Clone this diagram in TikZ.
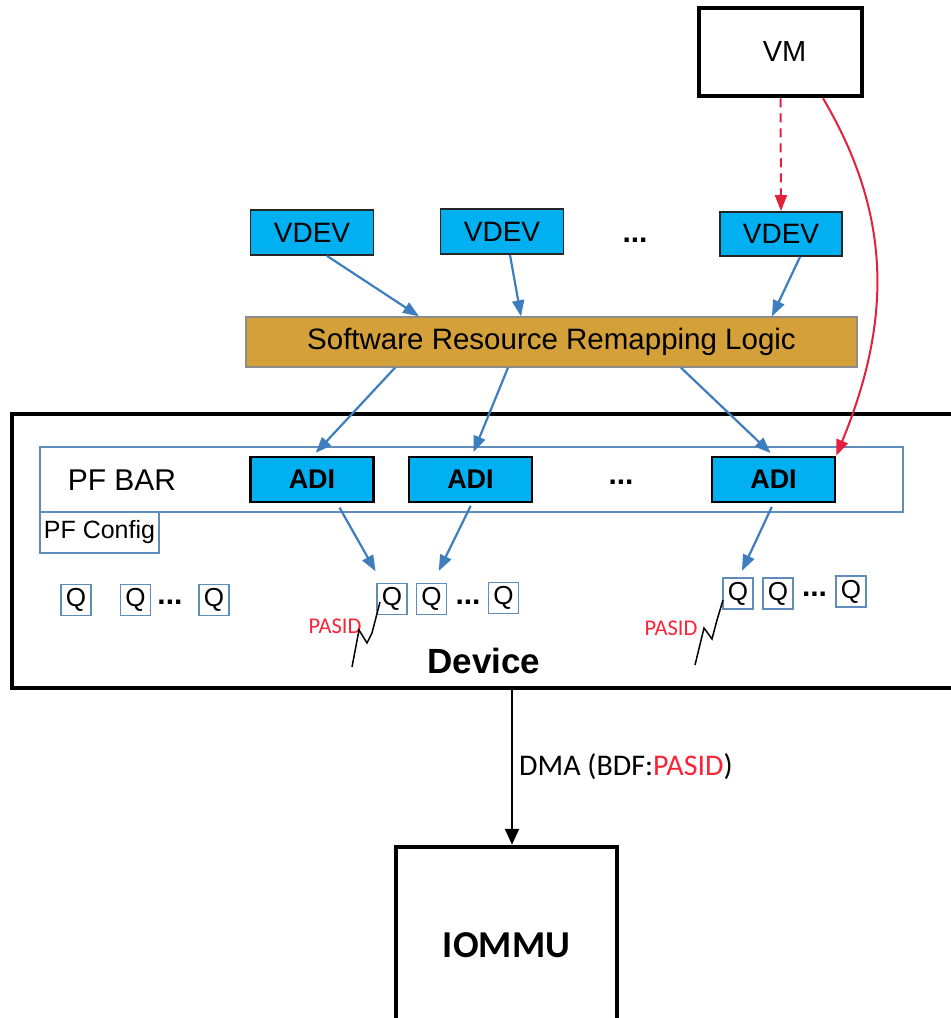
\documentclass[tikz,border=0pt]{standalone}
\usepackage{fontspec}
\setmainfont{Liberation Sans}
\newfontfamily\calfont{Carlito}
\usetikzlibrary{arrows.meta}

\definecolor{adicyan}{RGB}{0,176,240}
\definecolor{remaporange}{RGB}{212,160,58}
\definecolor{flowblue}{RGB}{62,126,190}
\definecolor{barblue}{RGB}{95,140,185}
\definecolor{vmred}{RGB}{228,32,62}
\definecolor{pasidred}{RGB}{250,35,55}

\tikzset{
	box/.style={draw, inner sep=0pt, minimum width=123pt, minimum height=45pt},
	vdevbox/.style={box, fill=adicyan, draw=black!85, line width=1.8pt, font=\fontsize{28}{34}\selectfont},
	adibox/.style={box, fill=adicyan, draw=black, line width=2.4pt, font=\bfseries\fontsize{27}{32}\selectfont},
	thickbox/.style={draw=black, line width=4.5pt, inner sep=0pt},
	barbox/.style={draw=barblue, line width=1.7pt, inner sep=0pt},
	qbox/.style={barbox, minimum width=30pt, minimum height=31pt, font=\fontsize{26}{30}\selectfont},
	dotsnode/.style={inner sep=0pt, font=\bfseries\fontsize{30}{32}\selectfont},
	pasid/.style={inner sep=0pt, text=pasidred, font=\calfont\fontsize{22.5}{26}\selectfont},
	flow/.style={-{Triangle[length=16pt,width=12pt]}, flowblue, line width=2.2pt},
	redflow/.style={-{Triangle[length=16pt,width=12pt]}, vmred, line width=2pt},
	zig/.style={black, line width=1.5pt},
}

\begin{document}
\begin{tikzpicture}[x=1pt,y=-1pt]
	\useasboundingbox (0,0) rectangle (951,1018);
	% VM and virtual devices
	\node[thickbox, minimum width=163pt, minimum height=88pt, font=\fontsize{29}{34}\selectfont] (vm) at (780.5,52) {\hspace*{8pt}VM};
	\node[vdevbox] (vdevA) at (312,232.5) {VDEV};
	\node[vdevbox] (vdevB) at (502,231.5) {VDEV};
	\node[vdevbox, minimum width=122pt, minimum height=44pt] (vdevC) at (781,234) {VDEV};
	\node[dotsnode] (vdots) at (635,240) {...};
	\node[draw=black!45, fill=remaporange, line width=1.4pt, inner sep=0pt, minimum width=611pt, minimum height=50pt, font=\fontsize{29.5}{34}\selectfont] (remap) at (551.5,342) {Software Resource Remapping Logic};

	% Device
	\node[thickbox, minimum width=948pt, minimum height=274pt] (device) at (486,551) {};
	\node[barbox, minimum width=863pt, minimum height=65pt] (pfbar) at (471.5,479.5) {};
	\node[inner sep=0pt, font=\fontsize{30}{34}\selectfont] (pfbarlabel) at (122,480) {PF BAR};
	\node[barbox, minimum width=119pt, minimum height=41pt, font=\fontsize{25}{30}\selectfont] (pfcfg) at (99.5,532.5) {PF Config};
	\node[adibox] (adiA) at (312,479.5) {ADI};
	\node[adibox] (adiB) at (470.5,479.5) {ADI};
	\node[adibox] (adiC) at (773.5,479.5) {ADI};
	\node[dotsnode] (adots) at (621,482) {...};
	\foreach \n/\x/\y in {11/76/600, 12/135.5/600, 13/214/600, 21/392/599, 22/431.5/599, 23/503.5/598, 31/738/593.5, 32/778/593.5, 33/851/591.5}
		\node[qbox] (q\n) at (\x,\y) {Q};
	\foreach \x/\y [count=\i] in {170/602, 468/602, 814.5/594}
		\node[dotsnode] (qdots\i) at (\x,\y) {...};
	\node[pasid] (pasidB) at (335,626) {PASID};
	\node[pasid] (pasidC) at (671,628) {PASID};
	\draw[zig] (352,667) -- (359,630) -- (367,643) -- (372,633) -- (380,602);
	\draw[zig] (695,665) -- (704,628) -- (712,639) -- (717,620) -- (723,600);
	\node[inner sep=0pt, font=\bfseries\fontsize{35}{40}\selectfont] (devlabel) at (484,661) {Device};

	% IOMMU
	\node[thickbox, minimum width=221pt, minimum height=196pt, font=\calfont\bfseries\fontsize{38}{44}\selectfont] (iommu) at (506.5,945) {IOMMU};

	% Arrows
	\draw[redflow, dashed, dash pattern=on 9pt off 6pt] (vm.south) -- (vdevC.north);
	\draw[redflow] ([xshift=42.5pt]vm.south) .. controls (892,215) and (892,320) .. (adiC.north east);
	\draw[flow] ([xshift=15pt]vdevA.south) -- ([xshift=-132.5pt]remap.north);
	\draw[flow] ([xshift=8pt]vdevB.south) -- ([xshift=-30.5pt]remap.north);
	\draw[flow] ([xshift=19pt]vdevC.south) -- ([xshift=220.5pt]remap.north);
	\draw[flow, shorten >=4pt] ([xshift=-156.5pt]remap.south) -- ([xshift=1pt]adiA.north);
	\draw[flow, shorten >=4pt] ([xshift=-43.5pt]remap.south) -- ([xshift=1.5pt]adiB.north);
	\draw[flow, shorten >=4pt] ([xshift=129.5pt]remap.south) -- (adiC.north);
	\draw[flow, shorten <=5pt, shorten >=13pt] ([xshift=25pt]adiA.south) -- ([xshift=-10pt]q21.north);
	\draw[flow, shorten <=3pt, shorten >=13pt] ([xshift=1.5pt]adiB.south) -- ([xshift=1.5pt]q22.north);
	\draw[flow, shorten <=4pt, shorten >=7pt] (adiC.south) -- ([xshift=1pt]q31.north);
	\coordinate (dmatop) at (512,688);
	\draw[-{Triangle[length=16pt,width=14pt]}, line width=2.4pt] (dmatop) -- (dmatop |- iommu.north) node[pos=0.5, right=6pt, inner sep=0pt, font=\calfont\fontsize{30}{34}\selectfont] (dmalabel) {DMA (BDF:\textcolor{pasidred}{PASID})};
\end{tikzpicture}
\end{document}
